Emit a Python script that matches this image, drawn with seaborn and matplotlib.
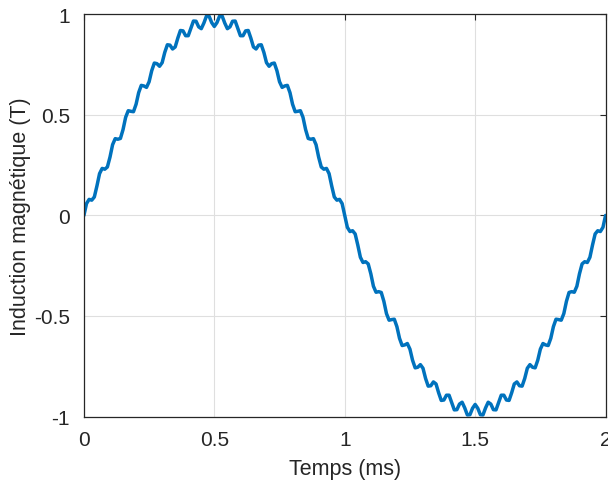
import numpy as np
import pandas as pd
import seaborn as sns
import matplotlib
matplotlib.use('Agg')
import matplotlib.pyplot as plt

# flux density, one sample every 0.01 ms from 0 to 2 ms
b_tesla = [
    0.000, 0.059, 0.080, 0.076, 0.092, 0.147, 0.208, 0.234, 0.230, 0.241,
    0.290, 0.352, 0.382, 0.379, 0.383, 0.427, 0.488, 0.521, 0.518, 0.516,
    0.553, 0.611, 0.647, 0.644, 0.637, 0.665, 0.720, 0.758, 0.755, 0.742,
    0.760, 0.811, 0.849, 0.847, 0.828, 0.838, 0.882, 0.920, 0.918, 0.894,
    0.894, 0.931, 0.967, 0.966, 0.938, 0.929, 0.957, 0.992, 0.991, 0.959,
    0.940, 0.959, 0.991, 0.992, 0.957, 0.929, 0.938, 0.966, 0.967, 0.931,
    0.894, 0.894, 0.918, 0.920, 0.882, 0.838, 0.828, 0.847, 0.849, 0.811,
    0.760, 0.742, 0.755, 0.758, 0.720, 0.665, 0.637, 0.644, 0.647, 0.611,
    0.553, 0.516, 0.518, 0.521, 0.488, 0.427, 0.383, 0.379, 0.382, 0.352,
    0.290, 0.241, 0.230, 0.234, 0.208, 0.147, 0.092, 0.076, 0.080, 0.059,
    0.000, -0.059, -0.080, -0.076, -0.092, -0.147, -0.208, -0.234, -0.230, -0.241,
    -0.290, -0.352, -0.382, -0.379, -0.383, -0.427, -0.488, -0.521, -0.518, -0.516,
    -0.553, -0.611, -0.647, -0.644, -0.637, -0.665, -0.720, -0.758, -0.755, -0.742,
    -0.760, -0.811, -0.849, -0.847, -0.828, -0.838, -0.882, -0.920, -0.918, -0.894,
    -0.894, -0.931, -0.967, -0.966, -0.938, -0.929, -0.957, -0.992, -0.991, -0.959,
    -0.940, -0.959, -0.991, -0.992, -0.957, -0.929, -0.938, -0.966, -0.967, -0.931,
    -0.894, -0.894, -0.918, -0.920, -0.882, -0.838, -0.828, -0.847, -0.849, -0.811,
    -0.760, -0.742, -0.755, -0.758, -0.720, -0.665, -0.637, -0.644, -0.647, -0.611,
    -0.553, -0.516, -0.518, -0.521, -0.488, -0.427, -0.383, -0.379, -0.382, -0.352,
    -0.290, -0.241, -0.230, -0.234, -0.208, -0.147, -0.092, -0.076, -0.080, -0.059,
    0.000,
]
t_ms = np.linspace(0, 2, len(b_tesla))

x_ticks = [0, 0.5, 1, 1.5, 2]
x_ticklabels = ['0', '0.5', '1', '1.5', '2']
y_ticks = [-1, -0.5, 0, 0.5, 1]
y_ticklabels = ['-1', '-0.5', '0', '0.5', '1']

df = pd.DataFrame({'t': t_ms, 'B': b_tesla})

# matlab-ish look
sns.set_style('whitegrid', {'grid.color': '#dfdfdf', 'axes.edgecolor': '#262626'})
plt.rcParams['font.family'] = ['Liberation Sans', 'DejaVu Sans']
plt.rcParams['axes.unicode_minus'] = False

fig = plt.figure(figsize=(6.08, 4.81), dpi=100)
ax = fig.add_axes([0.138, 0.132, 0.858, 0.836])

sns.lineplot(data=df, x='t', y='B', ax=ax, color='#0072BD', linewidth=2.5)

ax.set_xlim(0, 2)
ax.set_ylim(-1, 1)
ax.set_xticks(x_ticks)
ax.set_xticklabels(x_ticklabels)
ax.set_yticks(y_ticks)
ax.set_yticklabels(y_ticklabels)
ax.tick_params(direction='in', length=4, width=0.8, colors='#262626',
               labelsize=15, labelcolor='#262626', top=True, right=True)
ax.tick_params(axis='x', pad=10)
ax.tick_params(axis='y', pad=10)
ax.grid(True, color='#dfdfdf', linewidth=0.8)
for s in ax.spines.values():
    s.set_linewidth(0.9)
    s.set_color('#262626')

ax.set_xlabel('Temps (ms)', fontsize=15.5, color='#262626', labelpad=6)
ax.set_ylabel('Induction magnétique (T)', fontsize=15.5, color='#262626', labelpad=2)

fig.savefig('out.png', dpi=100)
